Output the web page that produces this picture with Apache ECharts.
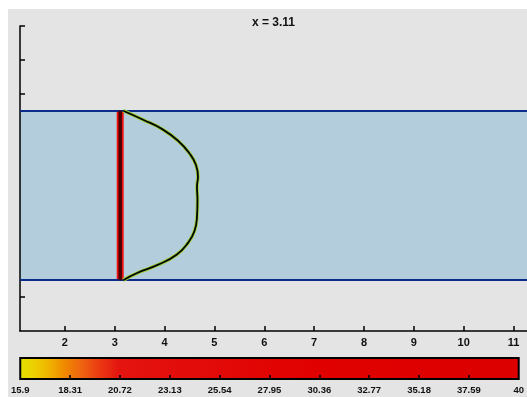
<!DOCTYPE html>
<html>
<head>
<meta charset="utf-8">
<script src="https://cdn.jsdelivr.net/npm/echarts@6/dist/echarts.min.js"></script>
<style>
html,body{margin:0;padding:0;background:#ffffff;width:527px;height:397px;overflow:hidden;}
#c{position:absolute;left:8px;top:9px;width:519px;height:388px;background:#e4e4e4;}
</style>
</head>
<body>
<div id="c"></div>
<script>
// ---- data ----
const titleText = 'x = 3.11';
const sectionX = 3.11;
const channelBottom = 1.5;
const channelTop = 6.5;
const xTicks = [2, 3, 4, 5, 6, 7, 8, 9, 10, 11];
const yTicks = [1, 7, 8, 9];
const profileX = [3.17, 3.56, 3.96, 4.28, 4.50, 4.63, 4.67, 4.65, 4.66, 4.65, 4.60, 4.47, 4.24, 3.86, 3.45, 3.17];
const profileY = [6.50, 6.24, 5.95, 5.60, 5.24, 4.90, 4.55, 4.26, 3.86, 3.37, 2.95, 2.60, 2.25, 1.95, 1.71, 1.50];
const cbLabels = [15.9, 18.31, 20.72, 23.13, 25.54, 27.95, 30.36, 32.77, 35.18, 37.59, 40];
const cbTickValues = [18.31, 20.72, 23.13, 25.54, 27.95, 30.36, 32.77, 35.18, 37.59];
const cbStopValues = [15.9, 16.6, 17.4, 18.1, 18.9, 19.8, 20.7, 30, 40];
const cbStopColors = ['#e2e000', '#ecd000', '#f0b000', '#f08800', '#ee6410', '#ea3812', '#e41410', '#e00000', '#dc0000'];

const cbMin = cbLabels[0], cbMax = cbLabels[cbLabels.length - 1];
const profile = profileX.map((x, i) => [x, profileY[i]]);
const barPts = [[sectionX, channelBottom], [sectionX, channelTop]];
const gradient = new echarts.graphic.LinearGradient(0, 0, 1, 0,
  cbStopValues.map((v, i) => ({ offset: (v - cbMin) / (cbMax - cbMin), color: cbStopColors[i] })));

const fontFam = '"Liberation Sans", Arial, sans-serif';

const chart = echarts.init(document.getElementById('c'), null, { renderer: 'canvas' });
chart.setOption({
  animation: false,
  backgroundColor: '#e4e4e4',
  title: {
    text: titleText, left: 239, top: 3,
    textStyle: { fontFamily: fontFam, fontWeight: 'bold', fontSize: 12, color: '#111' }
  },
  grid: [
    { left: 12, right: 0, top: 17, height: 305 },
    { left: 12, right: 5, top: 349, height: 21 }
  ],
  xAxis: [
    {
      gridIndex: 0, type: 'value', min: 1.1, max: 11.27,
      splitLine: { show: false },
      axisLine: { show: true, lineStyle: { color: '#000', width: 1.5 } },
      axisTick: { show: true, inside: true, length: 5, customValues: xTicks, lineStyle: { color: '#000', width: 1.5 } },
      axisLabel: { customValues: xTicks, margin: 6, fontFamily: fontFam, fontWeight: 'bold', fontSize: 11, color: '#111' }
    },
    {
      gridIndex: 1, type: 'value', min: cbMin, max: cbMax, z: 5,
      splitLine: { show: false },
      axisLine: { show: false },
      axisTick: { show: true, inside: true, length: 4, customValues: cbTickValues, lineStyle: { color: '#000', width: 1.5 } },
      axisLabel: { customValues: cbLabels, margin: 6, fontFamily: fontFam, fontWeight: 'bold', fontSize: 9.5, color: '#111',
        formatter: v => String(v) }
    }
  ],
  yAxis: [
    {
      gridIndex: 0, type: 'value', min: 0, max: 9, z: 3,
      splitLine: { show: false },
      axisLine: { show: true, lineStyle: { color: '#000', width: 1.5 } },
      axisTick: { show: true, inside: true, length: 5, customValues: yTicks, lineStyle: { color: '#000', width: 1.5 } },
      axisLabel: { show: false }
    },
    {
      gridIndex: 1, type: 'value', min: 0, max: 1, show: false
    }
  ],
  series: [
    {
      type: 'line', xAxisIndex: 0, yAxisIndex: 0, data: [], symbol: 'none', silent: true,
      markArea: {
        silent: true,
        itemStyle: { color: '#b4cddc' },
        data: [[{ xAxis: 1.1, yAxis: channelBottom }, { xAxis: 11.27, yAxis: channelTop }]]
      },
      markLine: {
        silent: true, symbol: 'none', label: { show: false },
        lineStyle: { color: '#0b2c8a', width: 2, type: 'solid' },
        data: [{ yAxis: channelBottom }, { yAxis: channelTop }]
      }
    },
    {
      type: 'line', xAxisIndex: 0, yAxisIndex: 0, data: barPts, symbol: 'none', silent: true, z: 4,
      lineStyle: { color: '#f01010', width: 7, cap: 'butt' }
    },
    {
      type: 'line', xAxisIndex: 0, yAxisIndex: 0, data: barPts, symbol: 'none', silent: true, z: 5,
      lineStyle: { color: '#4a0000', width: 3.5, cap: 'butt' }
    },
    {
      type: 'line', xAxisIndex: 0, yAxisIndex: 0, data: profile, symbol: 'none', smooth: 0.5, silent: true, z: 6,
      lineStyle: { color: '#9ad03c', width: 3.6 }
    },
    {
      type: 'line', xAxisIndex: 0, yAxisIndex: 0, data: profile, symbol: 'none', smooth: 0.5, silent: true, z: 7,
      lineStyle: { color: '#000', width: 1.8 }
    },
    {
      type: 'line', xAxisIndex: 1, yAxisIndex: 1, data: [], symbol: 'none', silent: true,
      markArea: {
        silent: true,
        itemStyle: { color: gradient, borderColor: '#000', borderWidth: 2 },
        data: [[{ xAxis: cbMin, yAxis: 0 }, { xAxis: cbMax, yAxis: 1 }]]
      }
    }
  ]
});
</script>
</body>
</html>
